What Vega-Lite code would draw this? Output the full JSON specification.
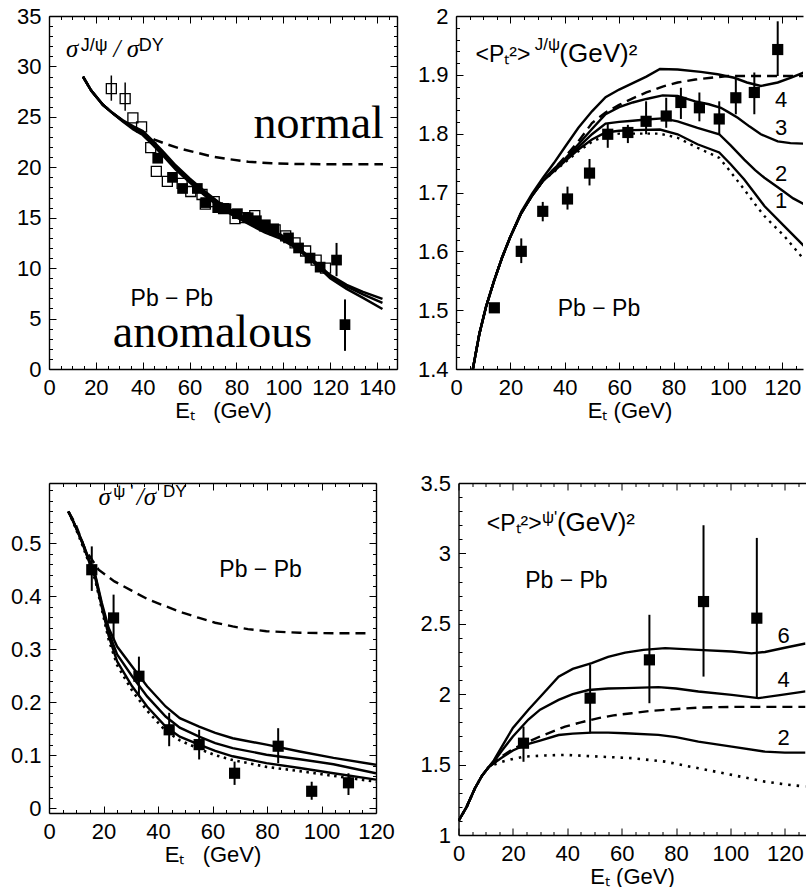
{
"$schema":"https://vega.github.io/schema/vega-lite/v6.json",
"usermeta":{"embedOptions":{"actions":false}},
"background":"white",
"padding":{"left":10,"top":5,"right":0,"bottom":0},
"spacing":51,
"config":{"view":{"stroke":null},
"axis":{"domainColor":"black","domainWidth":1.4,"tickColor":"black","tickWidth":1,"labelFont":"Liberation Sans","labelFontSize":22,"labelColor":"black","labelPadding":8,"titleFont":"Liberation Sans","titleFontSize":22,"titleFontWeight":"normal","titleColor":"black","titlePadding":2,"grid":false,"labelFlush":false,"labelOverlap":false,"minExtent":0,"offset":0}},
"datasets":{
"tl_solid":[
{"curve":"a","x":14.5,"y":29.0},{"curve":"a","x":18,"y":27.6},{"curve":"a","x":23,"y":26.2},{"curve":"a","x":27,"y":25.4},{"curve":"a","x":31.5,"y":24.65},{"curve":"a","x":36,"y":24.05},{"curve":"a","x":40,"y":23.6},{"curve":"a","x":44,"y":22.7},{"curve":"a","x":48.5,"y":21.6},{"curve":"a","x":54,"y":20.2},{"curve":"a","x":60,"y":18.9},{"curve":"a","x":66,"y":17.7},{"curve":"a","x":72,"y":16.6},{"curve":"a","x":78,"y":15.7},{"curve":"a","x":85,"y":14.8},{"curve":"a","x":92,"y":13.95},{"curve":"a","x":99,"y":13.3},{"curve":"a","x":106,"y":12.1},{"curve":"a","x":113,"y":10.75},{"curve":"a","x":120,"y":9.3},{"curve":"a","x":127,"y":8.35},{"curve":"a","x":134,"y":7.65},{"curve":"a","x":142.3,"y":6.95},
{"curve":"b","x":14.5,"y":29.0},{"curve":"b","x":18,"y":27.6},{"curve":"b","x":23,"y":26.2},{"curve":"b","x":27,"y":25.4},{"curve":"b","x":31.5,"y":24.6},{"curve":"b","x":36,"y":23.9},{"curve":"b","x":40,"y":23.4},{"curve":"b","x":44,"y":22.5},{"curve":"b","x":48.5,"y":21.4},{"curve":"b","x":54,"y":20.0},{"curve":"b","x":60,"y":18.7},{"curve":"b","x":66,"y":17.5},{"curve":"b","x":72,"y":16.4},{"curve":"b","x":78,"y":15.5},{"curve":"b","x":85,"y":14.6},{"curve":"b","x":92,"y":13.75},{"curve":"b","x":99,"y":13.1},{"curve":"b","x":106,"y":12.0},{"curve":"b","x":113,"y":10.65},{"curve":"b","x":120,"y":9.15},{"curve":"b","x":127,"y":8.2},{"curve":"b","x":134,"y":7.4},{"curve":"b","x":142.3,"y":6.55},
{"curve":"c","x":14.5,"y":29.0},{"curve":"c","x":18,"y":27.6},{"curve":"c","x":23,"y":26.2},{"curve":"c","x":27,"y":25.4},{"curve":"c","x":31.5,"y":24.55},{"curve":"c","x":36,"y":23.75},{"curve":"c","x":40,"y":23.2},{"curve":"c","x":44,"y":22.3},{"curve":"c","x":48.5,"y":21.2},{"curve":"c","x":54,"y":19.8},{"curve":"c","x":60,"y":18.5},{"curve":"c","x":66,"y":17.3},{"curve":"c","x":72,"y":16.2},{"curve":"c","x":78,"y":15.3},{"curve":"c","x":85,"y":14.4},{"curve":"c","x":92,"y":13.55},{"curve":"c","x":99,"y":12.9},{"curve":"c","x":106,"y":11.9},{"curve":"c","x":113,"y":10.55},{"curve":"c","x":120,"y":9.0},{"curve":"c","x":127,"y":7.95},{"curve":"c","x":134,"y":7.05},{"curve":"c","x":142.3,"y":5.95}],
"tl_dash":[{"x":14.5,"y":29.0},{"x":18,"y":27.6},{"x":23,"y":26.2},{"x":27,"y":25.4},{"x":31.5,"y":24.6},{"x":36,"y":23.9},{"x":40,"y":23.35},{"x":45,"y":22.75},{"x":50,"y":22.3},{"x":56,"y":21.85},{"x":63,"y":21.45},{"x":70,"y":21.05},{"x":77,"y":20.8},{"x":85,"y":20.55},{"x":95,"y":20.4},{"x":105,"y":20.33},{"x":120,"y":20.3},{"x":142.5,"y":20.3}],
"tl_open":[{"x":26.6,"y":27.8,"lo":26.6,"hi":29.1},{"x":32.5,"y":26.8,"lo":25.6,"hi":28.4},{"x":35.8,"y":24.9},{"x":39.5,"y":24.0},{"x":43.4,"y":21.95},{"x":45.8,"y":19.6},{"x":50.5,"y":18.6},{"x":56.8,"y":18.4},{"x":60.5,"y":17.6},{"x":65.3,"y":17.3},{"x":66.7,"y":16.35},{"x":70.5,"y":16.6},{"x":74.5,"y":15.9},{"x":79.4,"y":14.9},{"x":83.5,"y":15.0},{"x":87.8,"y":15.2},{"x":92,"y":14.2},{"x":96.5,"y":13.8},{"x":101,"y":13.2},{"x":105,"y":12.5},{"x":109.5,"y":11.7},{"x":114,"y":10.8},{"x":118,"y":10.0}],
"tl_filled":[{"x":46.4,"y":20.9},{"x":52.7,"y":19.0},{"x":57,"y":17.9},{"x":63.3,"y":17.9},{"x":66.9,"y":16.5},{"x":72,"y":16.0},{"x":75.5,"y":15.9},{"x":80.4,"y":15.4},{"x":85,"y":15.0},{"x":88.5,"y":14.7},{"x":92.3,"y":14.3},{"x":95.9,"y":13.9},{"x":102.2,"y":13.0},{"x":106.5,"y":12.0},{"x":111.4,"y":11.0},{"x":115.7,"y":10.1},{"x":122.7,"y":10.8,"lo":9.2,"hi":12.5},{"x":126.3,"y":4.4,"lo":1.8,"hi":6.9}],
"tr_solid":[
{"curve":"4","x":6.2,"y":1.4},{"curve":"4","x":8.6,"y":1.46},{"curve":"4","x":11,"y":1.505},{"curve":"4","x":14,"y":1.55},{"curve":"4","x":17,"y":1.59},{"curve":"4","x":20,"y":1.625},{"curve":"4","x":24,"y":1.667},{"curve":"4","x":28,"y":1.698},{"curve":"4","x":32,"y":1.725},{"curve":"4","x":36,"y":1.75},{"curve":"4","x":40,"y":1.777},{"curve":"4","x":45,"y":1.81},{"curve":"4","x":50,"y":1.838},{"curve":"4","x":55,"y":1.862},{"curve":"4","x":60,"y":1.875},{"curve":"4","x":65,"y":1.886},{"curve":"4","x":70,"y":1.897},{"curve":"4","x":75,"y":1.91},{"curve":"4","x":81.5,"y":1.909},{"curve":"4","x":90,"y":1.905},{"curve":"4","x":96.2,"y":1.901},{"curve":"4","x":102.3,"y":1.895},{"curve":"4","x":107,"y":1.887},{"curve":"4","x":112.1,"y":1.881},{"curve":"4","x":118.3,"y":1.887},{"curve":"4","x":123,"y":1.895},{"curve":"4","x":128,"y":1.904},
{"curve":"3","x":6.2,"y":1.4},{"curve":"3","x":8.6,"y":1.46},{"curve":"3","x":11,"y":1.505},{"curve":"3","x":14,"y":1.55},{"curve":"3","x":17,"y":1.59},{"curve":"3","x":20,"y":1.625},{"curve":"3","x":24,"y":1.665},{"curve":"3","x":28,"y":1.695},{"curve":"3","x":32,"y":1.72},{"curve":"3","x":36,"y":1.74},{"curve":"3","x":40,"y":1.757},{"curve":"3","x":45,"y":1.782},{"curve":"3","x":50,"y":1.808},{"curve":"3","x":55,"y":1.833},{"curve":"3","x":60,"y":1.845},{"curve":"3","x":65,"y":1.853},{"curve":"3","x":70,"y":1.859},{"curve":"3","x":76,"y":1.865},{"curve":"3","x":81.5,"y":1.864},{"curve":"3","x":88,"y":1.855},{"curve":"3","x":93,"y":1.85},{"curve":"3","x":97.4,"y":1.844},{"curve":"3","x":100,"y":1.837},{"curve":"3","x":103.6,"y":1.827},{"curve":"3","x":108,"y":1.812},{"curve":"3","x":112.1,"y":1.799},{"curve":"3","x":118.3,"y":1.787},{"curve":"3","x":123,"y":1.784},{"curve":"3","x":128,"y":1.783},
{"curve":"2","x":6.2,"y":1.4},{"curve":"2","x":8.6,"y":1.46},{"curve":"2","x":11,"y":1.505},{"curve":"2","x":14,"y":1.55},{"curve":"2","x":17,"y":1.59},{"curve":"2","x":20,"y":1.625},{"curve":"2","x":24,"y":1.665},{"curve":"2","x":28,"y":1.695},{"curve":"2","x":32,"y":1.72},{"curve":"2","x":36,"y":1.738},{"curve":"2","x":40,"y":1.755},{"curve":"2","x":45,"y":1.777},{"curve":"2","x":50,"y":1.799},{"curve":"2","x":55,"y":1.817},{"curve":"2","x":60,"y":1.82},{"curve":"2","x":65,"y":1.822},{"curve":"2","x":70,"y":1.824},{"curve":"2","x":76,"y":1.826},{"curve":"2","x":81.5,"y":1.821},{"curve":"2","x":88.8,"y":1.81},{"curve":"2","x":96.8,"y":1.799},{"curve":"2","x":101,"y":1.78},{"curve":"2","x":106,"y":1.756},{"curve":"2","x":110,"y":1.738},{"curve":"2","x":113.4,"y":1.725},{"curve":"2","x":119.5,"y":1.705},{"curve":"2","x":124,"y":1.69},{"curve":"2","x":128,"y":1.68},
{"curve":"1","x":6.2,"y":1.4},{"curve":"1","x":8.6,"y":1.46},{"curve":"1","x":11,"y":1.505},{"curve":"1","x":14,"y":1.55},{"curve":"1","x":17,"y":1.59},{"curve":"1","x":20,"y":1.625},{"curve":"1","x":24,"y":1.665},{"curve":"1","x":28,"y":1.695},{"curve":"1","x":32,"y":1.72},{"curve":"1","x":36,"y":1.736},{"curve":"1","x":40,"y":1.753},{"curve":"1","x":45,"y":1.773},{"curve":"1","x":50,"y":1.79},{"curve":"1","x":55,"y":1.802},{"curve":"1","x":60,"y":1.805},{"curve":"1","x":65,"y":1.806},{"curve":"1","x":75,"y":1.807},{"curve":"1","x":81.5,"y":1.799},{"curve":"1","x":88.8,"y":1.782},{"curve":"1","x":96.8,"y":1.768},{"curve":"1","x":101,"y":1.748},{"curve":"1","x":106,"y":1.722},{"curve":"1","x":110,"y":1.698},{"curve":"1","x":113.4,"y":1.677},{"curve":"1","x":120.7,"y":1.643},{"curve":"1","x":128,"y":1.609}],
"tr_dash":[{"x":6.2,"y":1.4},{"x":8.6,"y":1.46},{"x":11,"y":1.505},{"x":14,"y":1.55},{"x":17,"y":1.59},{"x":20,"y":1.625},{"x":24,"y":1.665},{"x":28,"y":1.695},{"x":32,"y":1.72},{"x":36,"y":1.74},{"x":40,"y":1.76},{"x":45,"y":1.787},{"x":50,"y":1.818},{"x":55,"y":1.836},{"x":60,"y":1.849},{"x":65,"y":1.86},{"x":70,"y":1.87},{"x":76,"y":1.88},{"x":81.5,"y":1.887},{"x":88,"y":1.892},{"x":93.8,"y":1.895},{"x":100,"y":1.898},{"x":128,"y":1.898}],
"tr_dot":[{"x":6.2,"y":1.4},{"x":8.6,"y":1.46},{"x":11,"y":1.505},{"x":14,"y":1.55},{"x":17,"y":1.59},{"x":20,"y":1.625},{"x":24,"y":1.665},{"x":28,"y":1.695},{"x":32,"y":1.72},{"x":36,"y":1.735},{"x":40,"y":1.751},{"x":45,"y":1.77},{"x":50,"y":1.786},{"x":55,"y":1.797},{"x":60,"y":1.8},{"x":65,"y":1.8},{"x":75,"y":1.8},{"x":81.5,"y":1.793},{"x":88.8,"y":1.776},{"x":96.8,"y":1.759},{"x":101,"y":1.735},{"x":106,"y":1.705},{"x":110,"y":1.68},{"x":113.4,"y":1.66},{"x":120.7,"y":1.626},{"x":128,"y":1.586}],
"tr_pts":[{"x":14.1,"y":1.504},{"x":24,"y":1.6,"lo":1.58,"hi":1.622},{"x":31.9,"y":1.668,"lo":1.651,"hi":1.684},{"x":41,"y":1.689,"lo":1.671,"hi":1.71},{"x":49.1,"y":1.733,"lo":1.712,"hi":1.757},{"x":55.8,"y":1.799,"lo":1.776,"hi":1.818},{"x":63.2,"y":1.802,"lo":1.784,"hi":1.815},{"x":69.9,"y":1.821,"lo":1.799,"hi":1.855},{"x":77.3,"y":1.83,"lo":1.81,"hi":1.861},{"x":82.7,"y":1.853,"lo":1.825,"hi":1.878},{"x":89.5,"y":1.844,"lo":1.821,"hi":1.87},{"x":96.8,"y":1.825,"lo":1.799,"hi":1.855},{"x":102.9,"y":1.861,"lo":1.833,"hi":1.895},{"x":109.7,"y":1.87,"lo":1.833,"hi":1.904},{"x":118.3,"y":1.943,"lo":1.898,"hi":1.991}],
"bl_solid":[
{"curve":"a","x":7.1,"y":0.56},{"curve":"a","x":9,"y":0.54},{"curve":"a","x":12,"y":0.505},{"curve":"a","x":14.5,"y":0.472},{"curve":"a","x":17,"y":0.44},{"curve":"a","x":19.4,"y":0.387},{"curve":"a","x":21.9,"y":0.34},{"curve":"a","x":25,"y":0.305},{"curve":"a","x":30.5,"y":0.2675},{"curve":"a","x":36,"y":0.23},{"curve":"a","x":42.8,"y":0.192},{"curve":"a","x":48,"y":0.17},{"curve":"a","x":55.1,"y":0.154},{"curve":"a","x":61,"y":0.142},{"curve":"a","x":67.4,"y":0.132},{"curve":"a","x":79.8,"y":0.12},{"curve":"a","x":92,"y":0.107},{"curve":"a","x":104.4,"y":0.095},{"curve":"a","x":120,"y":0.082},
{"curve":"b","x":7.1,"y":0.56},{"curve":"b","x":9,"y":0.54},{"curve":"b","x":12,"y":0.505},{"curve":"b","x":14.5,"y":0.47},{"curve":"b","x":17,"y":0.437},{"curve":"b","x":19.4,"y":0.383},{"curve":"b","x":21.9,"y":0.332},{"curve":"b","x":25,"y":0.29},{"curve":"b","x":30.5,"y":0.249},{"curve":"b","x":36,"y":0.211},{"curve":"b","x":42.8,"y":0.173},{"curve":"b","x":48,"y":0.152},{"curve":"b","x":55.1,"y":0.135},{"curve":"b","x":61,"y":0.123},{"curve":"b","x":67.4,"y":0.1135},{"curve":"b","x":79.8,"y":0.101},{"curve":"b","x":92,"y":0.0925},{"curve":"b","x":104.4,"y":0.083},{"curve":"b","x":120,"y":0.066},
{"curve":"c","x":7.1,"y":0.56},{"curve":"c","x":9,"y":0.54},{"curve":"c","x":12,"y":0.503},{"curve":"c","x":14.5,"y":0.468},{"curve":"c","x":17,"y":0.434},{"curve":"c","x":19.4,"y":0.379},{"curve":"c","x":21.9,"y":0.325},{"curve":"c","x":25,"y":0.277},{"curve":"c","x":30.5,"y":0.23},{"curve":"c","x":36,"y":0.192},{"curve":"c","x":42.8,"y":0.154},{"curve":"c","x":48,"y":0.135},{"curve":"c","x":55.1,"y":0.12},{"curve":"c","x":61,"y":0.108},{"curve":"c","x":67.4,"y":0.098},{"curve":"c","x":79.8,"y":0.085},{"curve":"c","x":92,"y":0.076},{"curve":"c","x":104.4,"y":0.066},{"curve":"c","x":120,"y":0.054}],
"bl_dot":[{"x":7.1,"y":0.56},{"x":9,"y":0.538},{"x":12,"y":0.5},{"x":14.5,"y":0.465},{"x":17,"y":0.43},{"x":19.4,"y":0.375},{"x":21.9,"y":0.318},{"x":25,"y":0.27},{"x":30.5,"y":0.222},{"x":36,"y":0.184},{"x":42.8,"y":0.146},{"x":48,"y":0.128},{"x":55.1,"y":0.112},{"x":61,"y":0.1},{"x":67.4,"y":0.091},{"x":79.8,"y":0.078},{"x":92,"y":0.07},{"x":104.4,"y":0.061},{"x":120,"y":0.05}],
"bl_dash":[{"x":7.1,"y":0.56},{"x":9.6,"y":0.538},{"x":13.3,"y":0.488},{"x":18.2,"y":0.45},{"x":24,"y":0.428},{"x":30.5,"y":0.41},{"x":36,"y":0.395},{"x":42.8,"y":0.381},{"x":49,"y":0.369},{"x":55.1,"y":0.359},{"x":61,"y":0.35},{"x":67.4,"y":0.343},{"x":73,"y":0.338},{"x":79.8,"y":0.334},{"x":92,"y":0.331},{"x":105,"y":0.33},{"x":117,"y":0.33}],
"bl_pts":[{"x":15.7,"y":0.45,"lo":0.41,"hi":0.494},{"x":23.7,"y":0.359,"lo":0.318,"hi":0.403},{"x":33,"y":0.249,"lo":0.211,"hi":0.286},{"x":44.1,"y":0.148,"lo":0.117,"hi":0.18},{"x":55.1,"y":0.12,"lo":0.092,"hi":0.148},{"x":68.1,"y":0.066,"lo":0.044,"hi":0.088},{"x":84.1,"y":0.117,"lo":0.085,"hi":0.151},{"x":96.4,"y":0.032,"lo":0.016,"hi":0.05},{"x":109.9,"y":0.048,"lo":0.025,"hi":0.066}],
"br_solid":[
{"curve":"6","x":0,"y":1.1},{"curve":"6","x":3,"y":1.2},{"curve":"6","x":6,"y":1.33},{"curve":"6","x":8.6,"y":1.42},{"curve":"6","x":11,"y":1.48},{"curve":"6","x":13,"y":1.53},{"curve":"6","x":16,"y":1.63},{"curve":"6","x":20,"y":1.76},{"curve":"6","x":25.7,"y":1.89},{"curve":"6","x":30,"y":1.98},{"curve":"6","x":36.8,"y":2.125},{"curve":"6","x":42,"y":2.18},{"curve":"6","x":49,"y":2.22},{"curve":"6","x":55,"y":2.265},{"curve":"6","x":61.3,"y":2.295},{"curve":"6","x":68,"y":2.315},{"curve":"6","x":76,"y":2.327},{"curve":"6","x":88.2,"y":2.315},{"curve":"6","x":100.5,"y":2.303},{"curve":"6","x":107.8,"y":2.29},{"curve":"6","x":112.7,"y":2.3},{"curve":"6","x":120,"y":2.33},{"curve":"6","x":127.6,"y":2.36},
{"curve":"4","x":0,"y":1.1},{"curve":"4","x":3,"y":1.2},{"curve":"4","x":6,"y":1.33},{"curve":"4","x":8.6,"y":1.42},{"curve":"4","x":11,"y":1.48},{"curve":"4","x":13,"y":1.52},{"curve":"4","x":16,"y":1.6},{"curve":"4","x":20,"y":1.7},{"curve":"4","x":25.7,"y":1.82},{"curve":"4","x":30,"y":1.89},{"curve":"4","x":36.8,"y":1.96},{"curve":"4","x":42,"y":2.0},{"curve":"4","x":47.8,"y":2.03},{"curve":"4","x":55,"y":2.04},{"curve":"4","x":61.3,"y":2.043},{"curve":"4","x":73.5,"y":2.05},{"curve":"4","x":80,"y":2.04},{"curve":"4","x":88.2,"y":2.019},{"curve":"4","x":100.5,"y":1.995},{"curve":"4","x":110.3,"y":1.972},{"curve":"4","x":118.8,"y":1.995},{"curve":"4","x":127.6,"y":2.02},
{"curve":"2","x":0,"y":1.1},{"curve":"2","x":3,"y":1.2},{"curve":"2","x":6,"y":1.33},{"curve":"2","x":8.6,"y":1.42},{"curve":"2","x":11,"y":1.48},{"curve":"2","x":13,"y":1.51},{"curve":"2","x":16,"y":1.55},{"curve":"2","x":20,"y":1.6},{"curve":"2","x":24.5,"y":1.64},{"curve":"2","x":30,"y":1.67},{"curve":"2","x":36.8,"y":1.71},{"curve":"2","x":42,"y":1.72},{"curve":"2","x":49,"y":1.727},{"curve":"2","x":55,"y":1.727},{"curve":"2","x":61.3,"y":1.723},{"curve":"2","x":73.5,"y":1.711},{"curve":"2","x":80,"y":1.695},{"curve":"2","x":88.2,"y":1.663},{"curve":"2","x":100.5,"y":1.628},{"curve":"2","x":112.7,"y":1.592},{"curve":"2","x":120,"y":1.585},{"curve":"2","x":127.6,"y":1.585}],
"br_dash":[{"x":0,"y":1.1},{"x":3,"y":1.2},{"x":6,"y":1.33},{"x":8.6,"y":1.42},{"x":11,"y":1.48},{"x":13,"y":1.51},{"x":16,"y":1.56},{"x":20,"y":1.61},{"x":24.5,"y":1.652},{"x":30,"y":1.7},{"x":39.2,"y":1.77},{"x":45,"y":1.8},{"x":51.5,"y":1.83},{"x":57,"y":1.85},{"x":63.7,"y":1.865},{"x":70,"y":1.88},{"x":76,"y":1.889},{"x":88.2,"y":1.905},{"x":100.5,"y":1.91},{"x":127.6,"y":1.91}],
"br_dot":[{"x":0,"y":1.1},{"x":3,"y":1.2},{"x":6,"y":1.33},{"x":8.6,"y":1.42},{"x":11,"y":1.48},{"x":13,"y":1.5},{"x":16,"y":1.52},{"x":20,"y":1.54},{"x":24.5,"y":1.557},{"x":32,"y":1.565},{"x":39.2,"y":1.569},{"x":51.5,"y":1.557},{"x":63.7,"y":1.546},{"x":76,"y":1.521},{"x":88.2,"y":1.474},{"x":100.5,"y":1.427},{"x":112.7,"y":1.379},{"x":120,"y":1.36},{"x":127.6,"y":1.344}],
"br_pts":[{"x":23.9,"y":1.652,"lo":1.52,"hi":1.77},{"x":48.4,"y":1.972,"lo":1.723,"hi":2.21},{"x":70.2,"y":2.244,"lo":1.936,"hi":2.564},{"x":90.1,"y":2.658,"lo":2.125,"hi":3.2},{"x":109.7,"y":2.54,"lo":1.98,"hi":3.11}]
},
"vconcat":[
{"hconcat":[
{"width":348,"height":353,
"resolve":{"axis":{"x":"independent","y":"independent"}},
"layer":[
{"data":{"name":"tl_solid"},"mark":{"type":"line","color":"black","strokeWidth":2.5,"clip":true},
"encoding":{"x":{"field":"x","type":"quantitative","scale":{"domain":[0,148.5],"nice":false,"zero":false},"axis":{"orient":"bottom","values":[0,20,40,60,80,100,120,140],"format":"d","ticks":false,"title":"Eₜ\u00a0\u00a0\u00a0(GeV)"}},
"y":{"field":"y","type":"quantitative","scale":{"domain":[0,35],"nice":false,"zero":false},"axis":{"orient":"left","values":[0,5,10,15,20,25,30,35],"format":"d","ticks":false,"title":null}},
"detail":{"field":"curve"}}},
{"data":{"name":"tl_dash"},"mark":{"type":"line","color":"black","strokeWidth":2.5,"strokeDash":[10,6],"clip":true},
"encoding":{"x":{"field":"x","type":"quantitative","scale":{"domain":[0,148.5],"nice":false,"zero":false},"axis":{"orient":"bottom","values":[0,20,40,60,80,100,120,140],"labels":false,"domain":false,"tickSize":-7,"title":null}},
"y":{"field":"y","type":"quantitative","scale":{"domain":[0,35],"nice":false,"zero":false},"axis":{"orient":"left","values":[0,5,10,15,20,25,30,35],"labels":false,"domain":false,"tickSize":-7,"title":null}}}},
{"data":{"name":"tl_open"},"mark":{"type":"point","shape":"square","filled":false,"color":"black","strokeWidth":1.3,"size":100,"opacity":1},
"encoding":{"x":{"field":"x","type":"quantitative","scale":{"domain":[0,148.5],"nice":false,"zero":false},"axis":{"orient":"bottom","values":[5,10,15,25,30,35,45,50,55,65,70,75,85,90,95,105,110,115,125,130,135,145],"labels":false,"domain":false,"tickSize":-3.5,"title":null}},
"y":{"field":"y","type":"quantitative","scale":{"domain":[0,35],"nice":false,"zero":false},"axis":{"orient":"left","values":[1,2,3,4,6,7,8,9,11,12,13,14,16,17,18,19,21,22,23,24,26,27,28,29,31,32,33,34],"labels":false,"domain":false,"tickSize":-3.5,"title":null}}}},
{"data":{"name":"tl_filled"},"mark":{"type":"point","shape":"square","filled":true,"color":"black","size":115,"opacity":1},
"encoding":{"x":{"field":"x","type":"quantitative","scale":{"domain":[0,148.5],"nice":false,"zero":false},"axis":{"orient":"top","values":[0,20,40,60,80,100,120,140],"labels":false,"tickSize":-7,"title":null}},
"y":{"field":"y","type":"quantitative","scale":{"domain":[0,35],"nice":false,"zero":false},"axis":{"orient":"right","values":[0,5,10,15,20,25,30,35],"labels":false,"tickSize":-7,"title":null}}}},
{"data":{"name":"tl_open"},"transform":[{"filter":{"field":"lo","valid":true}}],"mark":{"type":"rule","color":"black","strokeWidth":1.5},
"encoding":{"x":{"field":"x","type":"quantitative","scale":{"domain":[0,148.5],"nice":false,"zero":false},"axis":{"orient":"top","values":[5,10,15,25,30,35,45,50,55,65,70,75,85,90,95,105,110,115,125,130,135,145],"labels":false,"domain":false,"tickSize":-3.5,"title":null}},
"y":{"field":"lo","type":"quantitative","scale":{"domain":[0,35],"nice":false,"zero":false},"axis":{"orient":"right","values":[1,2,3,4,6,7,8,9,11,12,13,14,16,17,18,19,21,22,23,24,26,27,28,29,31,32,33,34],"labels":false,"domain":false,"tickSize":-3.5,"title":null}},"y2":{"field":"hi"}}},
{"data":{"name":"tl_filled"},"transform":[{"filter":{"field":"lo","valid":true}}],"mark":{"type":"rule","color":"black","strokeWidth":2},
"encoding":{"x":{"field":"x","type":"quantitative","scale":{"domain":[0,148.5],"nice":false,"zero":false},"axis":null},"y":{"field":"lo","type":"quantitative","scale":{"domain":[0,35],"nice":false,"zero":false},"axis":null},"y2":{"field":"hi"}}},
{"data":{"values":[{"x":87.3,"y":22.95,"text":"normal"},{"x":27.2,"y":2.14,"text":"anomalous"}]},"mark":{"type":"text","font":"Liberation Serif","fontSize":46,"align":"left","baseline":"alphabetic","color":"black"},
"encoding":{"x":{"field":"x","type":"quantitative","scale":{"domain":[0,148.5],"nice":false,"zero":false},"axis":null},"y":{"field":"y","type":"quantitative","scale":{"domain":[0,35],"nice":false,"zero":false},"axis":null},"text":{"field":"text"}}},
{"data":{"values":[{"x":34.8,"y":6.27,"text":"Pb − Pb"}]},"mark":{"type":"text","font":"Liberation Sans","fontSize":23,"align":"left","baseline":"alphabetic","color":"black"},
"encoding":{"x":{"field":"x","type":"quantitative","scale":{"domain":[0,148.5],"nice":false,"zero":false},"axis":null},"y":{"field":"y","type":"quantitative","scale":{"domain":[0,35],"nice":false,"zero":false},"axis":null},"text":{"field":"text"}}},
{"data":{"values":[{"x":7.3,"y":30.94,"text":"σ"},{"x":27.5,"y":30.94,"text":"/ σ"}]},"mark":{"type":"text","font":"Liberation Serif","fontStyle":"italic","fontSize":25,"align":"left","baseline":"alphabetic","color":"black"},
"encoding":{"x":{"field":"x","type":"quantitative","scale":{"domain":[0,148.5],"nice":false,"zero":false},"axis":null},"y":{"field":"y","type":"quantitative","scale":{"domain":[0,35],"nice":false,"zero":false},"axis":null},"text":{"field":"text"}}},
{"data":{"values":[{"x":13.5,"y":31.5,"text":"J/ψ"},{"x":38.3,"y":31.5,"text":"DY"}]},"mark":{"type":"text","font":"Liberation Sans","fontSize":18,"align":"left","baseline":"alphabetic","color":"black"},
"encoding":{"x":{"field":"x","type":"quantitative","scale":{"domain":[0,148.5],"nice":false,"zero":false},"axis":null},"y":{"field":"y","type":"quantitative","scale":{"domain":[0,35],"nice":false,"zero":false},"axis":null},"text":{"field":"text"}}}
]},
{"width":347,"height":353,
"resolve":{"axis":{"x":"independent","y":"independent"}},
"layer":[
{"data":{"name":"tr_solid"},"mark":{"type":"line","color":"black","strokeWidth":2.4,"clip":true},
"encoding":{"x":{"field":"x","type":"quantitative","scale":{"domain":[0,127.6],"nice":false,"zero":false},"axis":{"orient":"bottom","values":[0,20,40,60,80,100,120],"format":"d","ticks":false,"title":"Eₜ (GeV)"}},
"y":{"field":"y","type":"quantitative","scale":{"domain":[1.4,2.0],"nice":false,"zero":false},"axis":{"orient":"left","values":[1.4,1.5,1.6,1.7,1.8,1.9,2.0],"format":".1~f","ticks":false,"title":null}},
"detail":{"field":"curve"}}},
{"data":{"name":"tr_dash"},"mark":{"type":"line","color":"black","strokeWidth":2.4,"strokeDash":[10,6],"clip":true},
"encoding":{"x":{"field":"x","type":"quantitative","scale":{"domain":[0,127.6],"nice":false,"zero":false},"axis":{"orient":"bottom","values":[0,20,40,60,80,100,120],"labels":false,"domain":false,"tickSize":-7,"title":null}},
"y":{"field":"y","type":"quantitative","scale":{"domain":[1.4,2.0],"nice":false,"zero":false},"axis":{"orient":"left","values":[1.4,1.5,1.6,1.7,1.8,1.9,2.0],"labels":false,"domain":false,"tickSize":-7,"title":null}}}},
{"data":{"name":"tr_dot"},"mark":{"type":"line","color":"black","strokeWidth":2.4,"strokeDash":[2.5,5],"clip":true},
"encoding":{"x":{"field":"x","type":"quantitative","scale":{"domain":[0,127.6],"nice":false,"zero":false},"axis":{"orient":"bottom","values":[5,10,15,25,30,35,45,50,55,65,70,75,85,90,95,105,110,115,125],"labels":false,"domain":false,"tickSize":-3.5,"title":null}},
"y":{"field":"y","type":"quantitative","scale":{"domain":[1.4,2.0],"nice":false,"zero":false},"axis":{"orient":"left","values":[1.42,1.44,1.46,1.48,1.52,1.54,1.56,1.58,1.62,1.64,1.66,1.68,1.72,1.74,1.76,1.78,1.82,1.84,1.86,1.88,1.92,1.94,1.96,1.98],"labels":false,"domain":false,"tickSize":-3.5,"title":null}}}},
{"data":{"name":"tr_pts"},"mark":{"type":"point","shape":"square","filled":true,"color":"black","size":125,"opacity":1},
"encoding":{"x":{"field":"x","type":"quantitative","scale":{"domain":[0,127.6],"nice":false,"zero":false},"axis":{"orient":"top","values":[0,20,40,60,80,100,120],"labels":false,"tickSize":-7,"title":null}},
"y":{"field":"y","type":"quantitative","scale":{"domain":[1.4,2.0],"nice":false,"zero":false},"axis":null}}},
{"data":{"name":"tr_pts"},"transform":[{"filter":{"field":"lo","valid":true}}],"mark":{"type":"rule","color":"black","strokeWidth":2},
"encoding":{"x":{"field":"x","type":"quantitative","scale":{"domain":[0,127.6],"nice":false,"zero":false},"axis":{"orient":"top","values":[5,10,15,25,30,35,45,50,55,65,70,75,85,90,95,105,110,115,125],"labels":false,"domain":false,"tickSize":-3.5,"title":null}},"y":{"field":"lo","type":"quantitative","scale":{"domain":[1.4,2.0],"nice":false,"zero":false},"axis":null},"y2":{"field":"hi"}}},
{"data":{"values":[{"x":119.6,"y":1.858,"text":"4"},{"x":119.6,"y":1.81,"text":"3"},{"x":119.6,"y":1.731,"text":"2"},{"x":119.6,"y":1.685,"text":"1"}]},"mark":{"type":"text","font":"Liberation Sans","fontSize":22,"align":"center","baseline":"middle","color":"black"},
"encoding":{"x":{"field":"x","type":"quantitative","scale":{"domain":[0,127.6],"nice":false,"zero":false},"axis":null},"y":{"field":"y","type":"quantitative","scale":{"domain":[1.4,2.0],"nice":false,"zero":false},"axis":null},"text":{"field":"text"}}},
{"data":{"values":[{"x":7.2,"y":1.921,"text":"<Pₜ²>"},{"x":37.4,"y":1.49,"text":"Pb − Pb"}]},"mark":{"type":"text","font":"Liberation Sans","fontSize":23,"align":"left","baseline":"alphabetic","color":"black"},
"encoding":{"x":{"field":"x","type":"quantitative","scale":{"domain":[0,127.6],"nice":false,"zero":false},"axis":null},"y":{"field":"y","type":"quantitative","scale":{"domain":[1.4,2.0],"nice":false,"zero":false},"axis":null},"text":{"field":"text"}}},
{"data":{"values":[{"x":38.0,"y":1.921,"text":"(GeV)²"}]},"mark":{"type":"text","font":"Liberation Sans","fontSize":26,"align":"left","baseline":"alphabetic","color":"black"},
"encoding":{"x":{"field":"x","type":"quantitative","scale":{"domain":[0,127.6],"nice":false,"zero":false},"axis":null},"y":{"field":"y","type":"quantitative","scale":{"domain":[1.4,2.0],"nice":false,"zero":false},"axis":null},"text":{"field":"text"}}},
{"data":{"values":[{"x":29.0,"y":1.943,"text":"J/ψ"}]},"mark":{"type":"text","font":"Liberation Sans","fontSize":17,"align":"left","baseline":"alphabetic","color":"black"},
"encoding":{"x":{"field":"x","type":"quantitative","scale":{"domain":[0,127.6],"nice":false,"zero":false},"axis":null},"y":{"field":"y","type":"quantitative","scale":{"domain":[1.4,2.0],"nice":false,"zero":false},"axis":null},"text":{"field":"text"}}}
]}
],"spacing":19},
{"hconcat":[
{"width":327,"height":330,
"resolve":{"axis":{"x":"independent","y":"independent"}},
"layer":[
{"data":{"name":"bl_solid"},"mark":{"type":"line","color":"black","strokeWidth":2.4,"clip":true},
"encoding":{"x":{"field":"x","type":"quantitative","scale":{"domain":[0,120],"nice":false,"zero":false},"axis":{"orient":"bottom","values":[0,20,40,60,80,100,120],"format":"d","ticks":false,"title":"Eₜ\u00a0\u00a0\u00a0(GeV)"}},
"y":{"field":"y","type":"quantitative","scale":{"domain":[-0.009,0.6136],"nice":false,"zero":false},"axis":{"orient":"left","values":[0,0.1,0.2,0.3,0.4,0.5],"format":".1~f","ticks":false,"title":null}},
"detail":{"field":"curve"}}},
{"data":{"name":"bl_dash"},"mark":{"type":"line","color":"black","strokeWidth":2.4,"strokeDash":[10,6],"clip":true},
"encoding":{"x":{"field":"x","type":"quantitative","scale":{"domain":[0,120],"nice":false,"zero":false},"axis":{"orient":"bottom","values":[0,20,40,60,80,100,120],"labels":false,"domain":false,"tickSize":-7,"title":null}},
"y":{"field":"y","type":"quantitative","scale":{"domain":[-0.009,0.6136],"nice":false,"zero":false},"axis":{"orient":"left","values":[0,0.1,0.2,0.3,0.4,0.5],"labels":false,"domain":false,"tickSize":-7,"title":null}}}},
{"data":{"name":"bl_dot"},"mark":{"type":"line","color":"black","strokeWidth":2.6,"strokeDash":[2.5,4.5],"clip":true},
"encoding":{"x":{"field":"x","type":"quantitative","scale":{"domain":[0,120],"nice":false,"zero":false},"axis":{"orient":"bottom","values":[5,10,15,25,30,35,45,50,55,65,70,75,85,90,95,105,110,115],"labels":false,"domain":false,"tickSize":-3.5,"title":null}},
"y":{"field":"y","type":"quantitative","scale":{"domain":[-0.009,0.6136],"nice":false,"zero":false},"axis":{"orient":"left","values":[0.02,0.04,0.06,0.08,0.12,0.14,0.16,0.18,0.22,0.24,0.26,0.28,0.32,0.34,0.36,0.38,0.42,0.44,0.46,0.48,0.52,0.54,0.56,0.58,0.6],"labels":false,"domain":false,"tickSize":-3.5,"title":null}}}},
{"data":{"name":"bl_pts"},"mark":{"type":"point","shape":"square","filled":true,"color":"black","size":125,"opacity":1},
"encoding":{"x":{"field":"x","type":"quantitative","scale":{"domain":[0,120],"nice":false,"zero":false},"axis":{"orient":"top","values":[0,20,40,60,80,100,120],"labels":false,"tickSize":-7,"title":null}},
"y":{"field":"y","type":"quantitative","scale":{"domain":[-0.009,0.6136],"nice":false,"zero":false},"axis":{"orient":"right","values":[0,0.1,0.2,0.3,0.4,0.5],"labels":false,"tickSize":-7,"title":null}}}},
{"data":{"name":"bl_pts"},"mark":{"type":"rule","color":"black","strokeWidth":2},
"encoding":{"x":{"field":"x","type":"quantitative","scale":{"domain":[0,120],"nice":false,"zero":false},"axis":{"orient":"top","values":[5,10,15,25,30,35,45,50,55,65,70,75,85,90,95,105,110,115],"labels":false,"domain":false,"tickSize":-3.5,"title":null}},"y":{"field":"lo","type":"quantitative","scale":{"domain":[-0.009,0.6136],"nice":false,"zero":false},"axis":{"orient":"right","values":[0.02,0.04,0.06,0.08,0.12,0.14,0.16,0.18,0.22,0.24,0.26,0.28,0.32,0.34,0.36,0.38,0.42,0.44,0.46,0.48,0.52,0.54,0.56,0.58,0.6],"labels":false,"domain":false,"tickSize":-3.5,"title":null}},"y2":{"field":"hi"}}},
{"data":{"values":[{"x":62.5,"y":0.437,"text":"Pb − Pb"}]},"mark":{"type":"text","font":"Liberation Sans","fontSize":23,"align":"left","baseline":"alphabetic","color":"black"},
"encoding":{"x":{"field":"x","type":"quantitative","scale":{"domain":[0,120],"nice":false,"zero":false},"axis":null},"y":{"field":"y","type":"quantitative","scale":{"domain":[-0.009,0.6136],"nice":false,"zero":false},"axis":null},"text":{"field":"text"}}},
{"data":{"values":[{"x":18.2,"y":0.573,"text":"σ"},{"x":32.2,"y":0.573,"text":"/σ"}]},"mark":{"type":"text","font":"Liberation Serif","fontStyle":"italic","fontSize":25,"align":"left","baseline":"alphabetic","color":"black"},
"encoding":{"x":{"field":"x","type":"quantitative","scale":{"domain":[0,120],"nice":false,"zero":false},"axis":null},"y":{"field":"y","type":"quantitative","scale":{"domain":[-0.009,0.6136],"nice":false,"zero":false},"axis":null},"text":{"field":"text"}}},
{"data":{"values":[{"x":23.6,"y":0.588,"text":"ψ '"},{"x":41.8,"y":0.588,"text":"DY"}]},"mark":{"type":"text","font":"Liberation Sans","fontSize":17,"align":"left","baseline":"alphabetic","color":"black"},
"encoding":{"x":{"field":"x","type":"quantitative","scale":{"domain":[0,120],"nice":false,"zero":false},"axis":null},"y":{"field":"y","type":"quantitative","scale":{"domain":[-0.009,0.6136],"nice":false,"zero":false},"axis":null},"text":{"field":"text"}}}
]},
{"width":347,"height":352,
"resolve":{"axis":{"x":"independent","y":"independent"}},
"layer":[
{"data":{"name":"br_solid"},"mark":{"type":"line","color":"black","strokeWidth":2.4,"clip":true},
"encoding":{"x":{"field":"x","type":"quantitative","scale":{"domain":[0,127.6],"nice":false,"zero":false},"axis":{"orient":"bottom","values":[0,20,40,60,80,100,120],"format":"d","ticks":false,"title":"Eₜ (GeV)"}},
"y":{"field":"y","type":"quantitative","scale":{"domain":[1,3.5],"nice":false,"zero":false},"axis":{"orient":"left","values":[1,1.5,2,2.5,3,3.5],"format":".1~f","ticks":false,"title":null}},
"detail":{"field":"curve"}}},
{"data":{"name":"br_dash"},"mark":{"type":"line","color":"black","strokeWidth":2.4,"strokeDash":[10,6],"clip":true},
"encoding":{"x":{"field":"x","type":"quantitative","scale":{"domain":[0,127.6],"nice":false,"zero":false},"axis":{"orient":"bottom","values":[0,20,40,60,80,100,120],"labels":false,"domain":false,"tickSize":-7,"title":null}},
"y":{"field":"y","type":"quantitative","scale":{"domain":[1,3.5],"nice":false,"zero":false},"axis":{"orient":"left","values":[1,1.5,2,2.5,3,3.5],"labels":false,"domain":false,"tickSize":-7,"title":null}}}},
{"data":{"name":"br_dot"},"mark":{"type":"line","color":"black","strokeWidth":2.6,"strokeDash":[2.5,6],"clip":true},
"encoding":{"x":{"field":"x","type":"quantitative","scale":{"domain":[0,127.6],"nice":false,"zero":false},"axis":{"orient":"bottom","values":[5,10,15,25,30,35,45,50,55,65,70,75,85,90,95,105,110,115,125],"labels":false,"domain":false,"tickSize":-3.5,"title":null}},
"y":{"field":"y","type":"quantitative","scale":{"domain":[1,3.5],"nice":false,"zero":false},"axis":{"orient":"left","values":[1.1,1.2,1.3,1.4,1.6,1.7,1.8,1.9,2.1,2.2,2.3,2.4,2.6,2.7,2.8,2.9,3.1,3.2,3.3,3.4],"labels":false,"domain":false,"tickSize":-3.5,"title":null}}}},
{"data":{"name":"br_pts"},"mark":{"type":"point","shape":"square","filled":true,"color":"black","size":125,"opacity":1},
"encoding":{"x":{"field":"x","type":"quantitative","scale":{"domain":[0,127.6],"nice":false,"zero":false},"axis":{"orient":"top","values":[0,20,40,60,80,100,120],"labels":false,"tickSize":-7,"title":null}},
"y":{"field":"y","type":"quantitative","scale":{"domain":[1,3.5],"nice":false,"zero":false},"axis":null}}},
{"data":{"name":"br_pts"},"mark":{"type":"rule","color":"black","strokeWidth":2},
"encoding":{"x":{"field":"x","type":"quantitative","scale":{"domain":[0,127.6],"nice":false,"zero":false},"axis":{"orient":"top","values":[5,10,15,25,30,35,45,50,55,65,70,75,85,90,95,105,110,115,125],"labels":false,"domain":false,"tickSize":-3.5,"title":null}},"y":{"field":"lo","type":"quantitative","scale":{"domain":[1,3.5],"nice":false,"zero":false},"axis":null},"y2":{"field":"hi"}}},
{"data":{"values":[{"x":119.6,"y":2.41,"text":"6"},{"x":119.6,"y":2.102,"text":"4"},{"x":119.6,"y":1.688,"text":"2"}]},"mark":{"type":"text","font":"Liberation Sans","fontSize":22,"align":"center","baseline":"middle","color":"black"},
"encoding":{"x":{"field":"x","type":"quantitative","scale":{"domain":[0,127.6],"nice":false,"zero":false},"axis":null},"y":{"field":"y","type":"quantitative","scale":{"domain":[1,3.5],"nice":false,"zero":false},"axis":null},"text":{"field":"text"}}},
{"data":{"values":[{"x":10.4,"y":3.156,"text":"<Pₜ²>"},{"x":24.5,"y":2.754,"text":"Pb − Pb"}]},"mark":{"type":"text","font":"Liberation Sans","fontSize":23,"align":"left","baseline":"alphabetic","color":"black"},
"encoding":{"x":{"field":"x","type":"quantitative","scale":{"domain":[0,127.6],"nice":false,"zero":false},"axis":null},"y":{"field":"y","type":"quantitative","scale":{"domain":[1,3.5],"nice":false,"zero":false},"axis":null},"text":{"field":"text"}}},
{"data":{"values":[{"x":36.2,"y":3.156,"text":"(GeV)²"}]},"mark":{"type":"text","font":"Liberation Sans","fontSize":26,"align":"left","baseline":"alphabetic","color":"black"},
"encoding":{"x":{"field":"x","type":"quantitative","scale":{"domain":[0,127.6],"nice":false,"zero":false},"axis":null},"y":{"field":"y","type":"quantitative","scale":{"domain":[1,3.5],"nice":false,"zero":false},"axis":null},"text":{"field":"text"}}},
{"data":{"values":[{"x":30.7,"y":3.216,"text":"ψ'"}]},"mark":{"type":"text","font":"Liberation Sans","fontSize":17,"align":"left","baseline":"alphabetic","color":"black"},
"encoding":{"x":{"field":"x","type":"quantitative","scale":{"domain":[0,127.6],"nice":false,"zero":false},"axis":null},"y":{"field":"y","type":"quantitative","scale":{"domain":[1,3.5],"nice":false,"zero":false},"axis":null},"text":{"field":"text"}}}
]}
],"spacing":24.5}
]
}
